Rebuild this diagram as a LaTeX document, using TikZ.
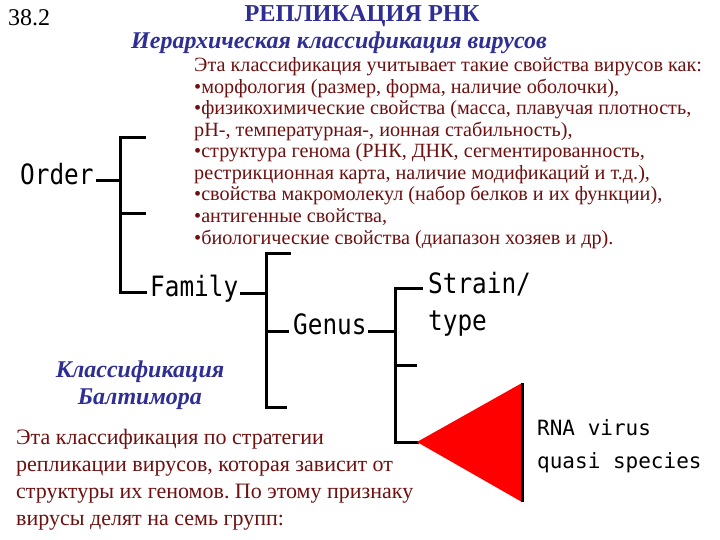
\documentclass[tikz,border=0pt]{standalone}
\usepackage{fontspec}
\setmainfont{Liberation Serif}
\newfontfamily\pix[FakeStretch=0.87]{DejaVu Sans Mono}
\newfontfamily\pixs{DejaVu Sans Mono}
\definecolor{ttlblue}{HTML}{2E2E94}
\definecolor{txtred}{HTML}{6E1010}
\frenchspacing
\tikzset{
  tree/.style={line width=3pt, line cap=rect},
  lbl/.style={inner sep=0pt, anchor=west, text height=0.73em, text depth=0pt, font=\pix\fontsize{28}{28}\selectfont},
  lbls/.style={inner sep=0pt, anchor=base west, font=\pixs\fontsize{21}{21}\selectfont},
  para/.style={inner sep=0pt, anchor=base west, text=txtred},
}
\begin{document}
\begin{tikzpicture}[x=1pt,y=-1pt]
\useasboundingbox (0,0) rectangle (720,540);
% headers
\node[inner sep=0pt, anchor=base west, font=\fontsize{24}{24}\selectfont] (num) at (8,26) {38.2};
\node[inner sep=0pt, anchor=base, text=ttlblue, font=\bfseries\fontsize{24.3}{24}\selectfont] (title) at (362,22) {РЕПЛИКАЦИЯ РНК};
\node[inner sep=0pt, anchor=base, text=ttlblue, font=\bfseries\itshape\fontsize{24}{24}\selectfont] (sub) at (339,49) {Иерархическая классификация вирусов};
% upper paragraph
\begin{scope}[font=\fontsize{20.2}{21.5}\selectfont]
\node[para] (p1) at (194,72) {Эта классификация учитывает такие свойства вирусов как:};
\node[para] (p2) at (194,93.5) {•морфология (размер, форма, наличие оболочки),};
\node[para] (p3) at (194,115) {•физикохимические свойства (масса, плавучая плотность,};
\node[para] (p4) at (194,136.5) {рН-, температурная-, ионная стабильность),};
\node[para] (p5) at (194,158) {•структура генома (РНК, ДНК, сегментированность,};
\node[para] (p6) at (194,179.5) {рестрикционная карта, наличие модификаций и т.д.),};
\node[para] (p7) at (194,201) {•свойства макромолекул (набор белков и их функции),};
\node[para] (p8) at (194,222.5) {•антигенные свойства,};
\node[para] (p9) at (194,244) {•биологические свойства (диапазон хозяев и др).};
\end{scope}
% Baltimore
\node[inner sep=0pt, anchor=base, text=ttlblue, font=\bfseries\itshape\fontsize{24}{24}\selectfont] (b1) at (140,377) {Классификация};
\node[inner sep=0pt, anchor=base, text=ttlblue, font=\bfseries\itshape\fontsize{24}{24}\selectfont] (b2) at (140,404) {Балтимора};
\begin{scope}[font=\fontsize{22}{27}\selectfont]
\node[para] (q1) at (16,444) {Эта классификация по стратегии};
\node[para] (q2) at (16,471) {репликации вирусов, которая зависит от};
\node[para] (q3) at (16,498) {структуры их геномов. По этому признаку};
\node[para] (q4) at (16,525) {вирусы делят на семь групп:};
\end{scope}
% tree labels
\node[lbl] (order) at (20,181) {Order};
\node[lbl] (family) at (150,293) {Family};
\node[lbl] (genus) at (293,331) {Genus};
\node[lbl] (strain) at (428,290) {Strain/};
\node[inner sep=0pt, anchor=base west, font=\pix\fontsize{28}{28}\selectfont] (type) at (428,330) {type};
\node[lbls] (rna) at (537,435) {RNA virus};
\node[lbls] (quasi) at (537,468) {quasi species};
% coordinates
\coordinate (ov) at (120,181);
\coordinate (ot) at (120,138);
\coordinate (ob) at (120,292);
\coordinate (fv) at (266,293);
\coordinate (ft) at (266,253);
\coordinate (fb) at (266,407);
\coordinate (gv) at (395,331);
\coordinate (gt) at (395,288);
\coordinate (gb) at (395,442);
\coordinate (tip) at (417,442);
\coordinate (tr) at (522,383);
\coordinate (br) at (522,502);
% order bracket
\draw[tree] ([xshift=4pt]order.east) -- (ov);
\draw[tree] (ot) -- (ob);
\draw[tree] (ot) -- ++(24,0);
\draw[tree] (120,214) -- ++(24,0);
\draw[tree] (ob) -- ([xshift=-5pt]family.west |- ob);
% family bracket
\draw[tree] ([xshift=3pt]family.east) -- (fv);
\draw[tree] (ft) -- (fb);
\draw[tree] (ft) -- ++(23,0);
\draw[tree] (266,331) -- ([xshift=-6pt]genus.west);
\draw[tree] (fb) -- ++(19,0);
% genus bracket
\draw[tree] ([xshift=3pt]genus.east) -- (gv);
\draw[tree] (gt) -- (gb);
\draw[tree] (gt) -- ([xshift=-7pt]strain.west |- gt);
\draw[tree] (395,365) -- ++(20,0);
\draw[tree] (gb) -- (tip);
% triangle
\fill[red] (tip) -- (tr) -- (br) -- cycle;
\draw[line width=3pt] (tr) -- (br);
\end{tikzpicture}
\end{document}
